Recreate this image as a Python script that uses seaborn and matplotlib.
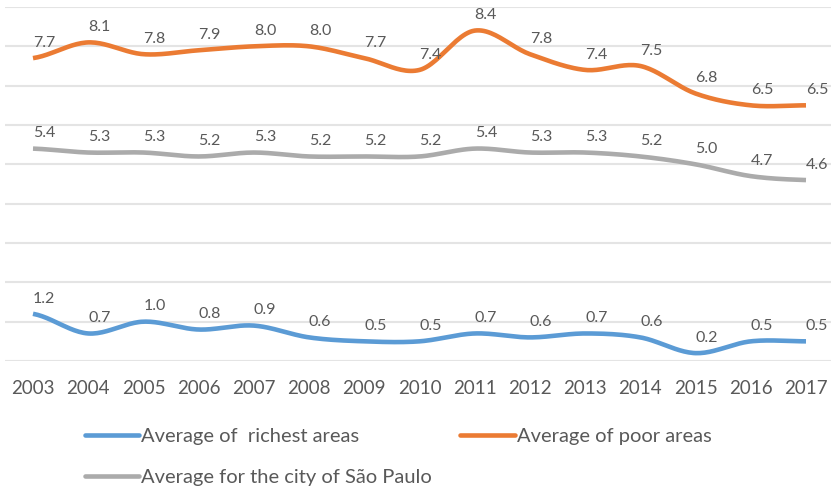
import numpy as np
import pandas as pd
import matplotlib
matplotlib.use("Agg")
import matplotlib.pyplot as plt
import seaborn as sns
from matplotlib.lines import Line2D

# Values per year
years = ["2003", "2004", "2005", "2006", "2007", "2008", "2009", "2010",
         "2011", "2012", "2013", "2014", "2015", "2016", "2017"]
richest = [1.2, 0.7, 1.0, 0.8, 0.9, 0.6, 0.5, 0.5, 0.7, 0.6, 0.7, 0.6, 0.2, 0.5, 0.5]
poor = [7.7, 8.1, 7.8, 7.9, 8.0, 8.0, 7.7, 7.4, 8.4, 7.8, 7.4, 7.5, 6.8, 6.5, 6.5]
city = [5.4, 5.3, 5.3, 5.2, 5.3, 5.2, 5.2, 5.2, 5.4, 5.3, 5.3, 5.2, 5.0, 4.7, 4.6]

series_names = ["Average of  richest areas", "Average of poor areas",
                "Average for the city of São Paulo"]
series_values = [richest, poor, city]
colors = ["#5B9BD5", "#EB7B33", "#ABABAB"]
TEXT = "#595959"

sns.set_theme(style="white")
plt.rcParams["font.family"] = ["Lato", "DejaVu Sans"]


def smooth(xs, ys, n=24):
    """Catmull-Rom curve through the points, like a smoothed office-chart line."""
    xs = np.asarray(xs, float)
    ys = np.asarray(ys, float)
    px = np.concatenate([[2 * xs[0] - xs[1]], xs, [2 * xs[-1] - xs[-2]]])
    py = np.concatenate([[ys[0]], ys, [ys[-1]]])
    outx, outy = [], []
    t = np.linspace(0, 1, n, endpoint=False)
    for i in range(1, len(px) - 2):
        for arr, out in ((px, outx), (py, outy)):
            p0, p1, p2, p3 = arr[i - 1], arr[i], arr[i + 1], arr[i + 2]
            out.extend(0.5 * ((2 * p1) + (-p0 + p2) * t
                              + (2 * p0 - 5 * p1 + 4 * p2 - p3) * t ** 2
                              + (-p0 + 3 * p1 - 3 * p2 + p3) * t ** 3))
    outx.append(xs[-1])
    outy.append(ys[-1])
    return np.array(outx), np.array(outy)


W, H = 831, 492
fig = plt.figure(figsize=(W / 100, H / 100), dpi=100)
left_px, right_px, top_px, bottom_px = 5.4, 833.6, 7, 361
ax = fig.add_axes([left_px / W, 1 - bottom_px / H,
                   (right_px - left_px) / W, (bottom_px - top_px) / H])

xpos = np.arange(len(years))
for name, vals, col in zip(series_names, series_values, colors):
    sx, sy = smooth(xpos, vals)
    df = pd.DataFrame({"x": sx, "y": sy})
    sns.lineplot(data=df, x="x", y="y", ax=ax, color=col, linewidth=3.3,
                 sort=False, estimator=None, solid_capstyle="butt")
    for xi, v in zip(xpos, vals):
        ax.annotate(f"{v:.1f}", (xi, v), xytext=(8, 11), textcoords="offset points",
                    ha="center", va="center", fontsize=11.5, color=TEXT)

ax.set_xlim(-0.5, len(years) - 0.5)
ax.set_ylim(0, 9)
ax.set_yticks(np.arange(0, 10, 1))
ax.set_yticklabels([])
ax.set_xticks(xpos)
ax.set_xticklabels(years)
ax.tick_params(axis="x", length=0, pad=14, labelsize=13.5, labelcolor=TEXT)
ax.tick_params(axis="y", length=0)
ax.grid(axis="y", color="#E4E4E4", linewidth=1.5)
ax.set_axisbelow(True)
ax.set_xlabel("")
ax.set_ylabel("")
for s in ax.spines.values():
    s.set_visible(False)

handles = [Line2D([], [], color=c, linewidth=3.3) for c in colors]
order = [0, 2, 1]
fig.legend([handles[i] for i in order], [series_names[i] for i in order],
           ncol=2, loc="upper left", bbox_to_anchor=(85 / W, 1 - 428 / H),
           frameon=False, fontsize=14.5, handlelength=2.7, handletextpad=0.1,
           columnspacing=1.4, labelspacing=1.2, borderpad=0, borderaxespad=0,
           labelcolor=TEXT)

fig.savefig("out.png", dpi=100)
